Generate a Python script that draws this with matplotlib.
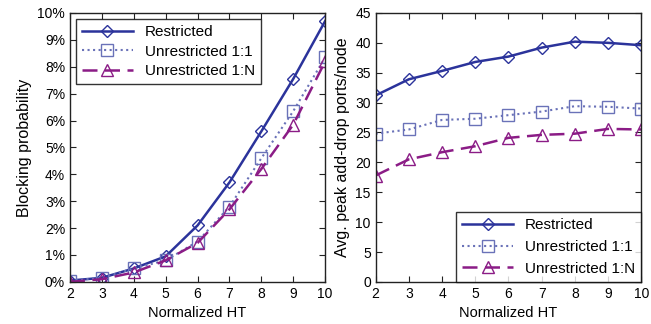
import matplotlib
matplotlib.use("Agg")
import matplotlib.pyplot as plt
from matplotlib.ticker import FuncFormatter

plt.rcParams['font.family'] = ['Liberation Sans', 'DejaVu Sans']

ht = [2, 3, 4, 5, 6, 7, 8, 9, 10]
labels = ["Restricted", "Unrestricted 1:1", "Unrestricted 1:N"]

block_restricted = [0.05, 0.15, 0.5, 0.95, 2.1, 3.7, 5.6, 7.55, 9.7]
block_unres_11 = [0.05, 0.15, 0.5, 0.8, 1.5, 2.8, 4.6, 6.35, 8.35]
block_unres_1n = [0.0, 0.1, 0.35, 0.8, 1.45, 2.7, 4.2, 5.85, 8.2]

ports_restricted = [31.2, 33.9, 35.3, 36.8, 37.7, 39.2, 40.2, 40.0, 39.6]
ports_unres_11 = [24.8, 25.5, 27.1, 27.3, 27.9, 28.5, 29.4, 29.3, 29.0]
ports_unres_1n = [17.8, 20.5, 21.7, 22.7, 24.1, 24.6, 24.8, 25.6, 25.5]

c_r = '#2b339b'
c_11 = '#6a72b8'
c_1n = '#8b1c86'

styles = [
    dict(color=c_r, ls='-', lw=1.8, marker='D', ms=6.5, mfc='none', mec=c_r, mew=1.0),
    dict(color=c_11, ls=':', lw=1.5, marker='s', ms=8, mfc='none', mec=c_11, mew=1.0),
    dict(color=c_1n, ls=(0, (6, 3)), lw=1.8, marker='^', ms=8, mfc='none', mec=c_1n, mew=1.0),
]

fig = plt.figure(figsize=(6.51, 3.24), dpi=100)
ax1 = fig.add_axes([0.1075, 0.130, 0.392, 0.830])
ax2 = fig.add_axes([0.577, 0.130, 0.408, 0.830])

for ys, st, lb in zip([block_restricted, block_unres_11, block_unres_1n], styles, labels):
    ax1.plot(ht, ys, label=lb, **st)
for ys, st, lb in zip([ports_restricted, ports_unres_11, ports_unres_1n], styles, labels):
    ax2.plot(ht, ys, label=lb, **st)

ax1.set_xlim(2, 10)
ax1.set_ylim(0, 10)
ax1.set_yticks(range(0, 11))
ax1.yaxis.set_major_formatter(FuncFormatter(lambda v, p: f"{int(v)}%"))
ax1.set_ylabel("Blocking probability", fontsize=11.5)
ax1.set_xlabel("Normalized HT", fontsize=10.5)

ax2.set_xlim(2, 10)
ax2.set_ylim(0, 45)
ax2.set_yticks(range(0, 46, 5))
ax2.set_ylabel("Avg. peak add-drop ports/node", fontsize=11.5)
ax2.set_xlabel("Normalized HT", fontsize=10.5)

for ax in (ax1, ax2):
    ax.set_xticks(ht)
    ax.tick_params(direction='in', top=True, right=True, labelsize=10, length=4, color='#222222')
    for s in ax.spines.values():
        s.set_linewidth(1.0)
        s.set_color('#222222')

leg1 = ax1.legend(loc='upper left', fontsize=11, frameon=True, fancybox=False,
                  edgecolor='black', handlelength=3.3, borderaxespad=0.4, labelspacing=0.35)
leg1.get_frame().set_linewidth(1.0)
leg2 = ax2.legend(loc='lower right', fontsize=11, frameon=True, fancybox=False,
                  edgecolor='black', handlelength=3.3, borderaxespad=0.0, labelspacing=0.5)
leg2.get_frame().set_linewidth(1.0)

fig.savefig("out.png", dpi=100)
